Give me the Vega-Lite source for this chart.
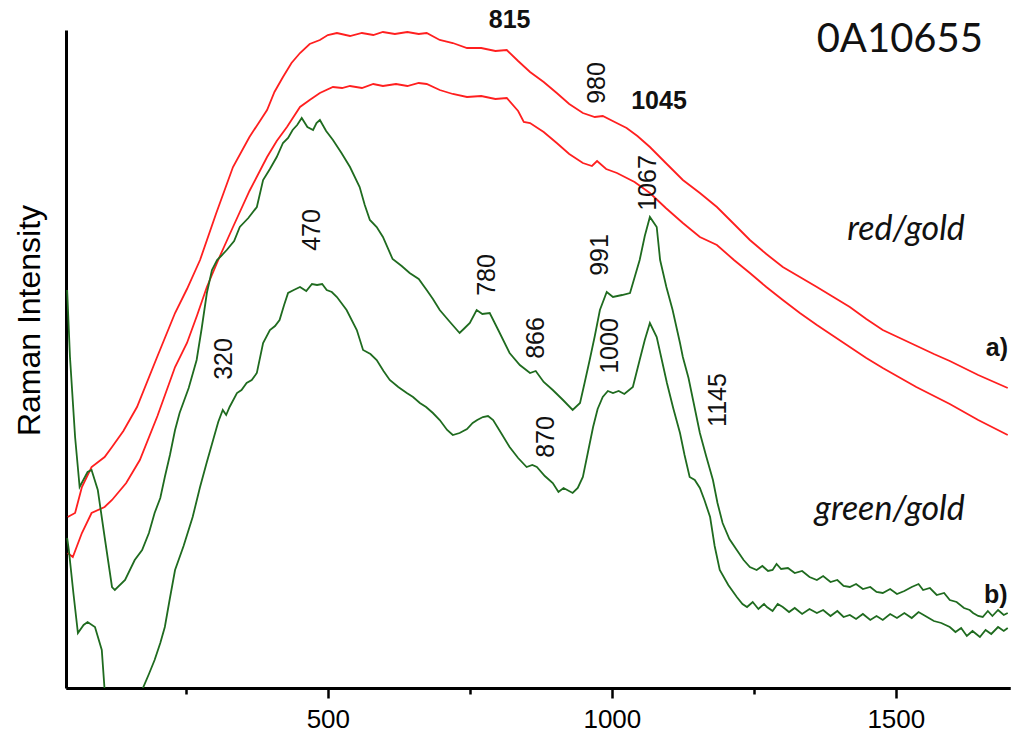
{
  "$schema": "https://vega.github.io/schema/vega-lite/v6.json",
  "width": 944,
  "height": 658,
  "autosize": {"type": "none"},
  "padding": {"left": 66, "top": 30, "right": 5, "bottom": 55},
  "background": "white",
  "config": {"view": {"stroke": null}, "axis": {"grid": false}},
  "datasets": {
    "curves": [
      {"curve": "a1", "w": 42, "h": 171}, {"curve": "a1", "w": 55, "h": 175}, {"curve": "a1", "w": 67, "h": 201}, {"curve": "a1", "w": 84, "h": 221}, {"curve": "a1", "w": 107, "h": 231}, {"curve": "a1", "w": 120, "h": 241}, {"curve": "a1", "w": 140, "h": 257}, {"curve": "a1", "w": 164, "h": 281}, {"curve": "a1", "w": 198, "h": 329}, {"curve": "a1", "w": 231, "h": 375}, {"curve": "a1", "w": 252, "h": 399}, {"curve": "a1", "w": 275, "h": 428}, {"curve": "a1", "w": 303, "h": 474}, {"curve": "a1", "w": 333, "h": 521}, {"curve": "a1", "w": 362, "h": 551}, {"curve": "a1", "w": 393, "h": 578}, {"curve": "a1", "w": 406, "h": 596}, {"curve": "a1", "w": 421, "h": 611}, {"curve": "a1", "w": 436, "h": 625}, {"curve": "a1", "w": 451, "h": 635}, {"curve": "a1", "w": 468, "h": 644}, {"curve": "a1", "w": 486, "h": 648}, {"curve": "a1", "w": 500, "h": 653}, {"curve": "a1", "w": 516, "h": 655}, {"curve": "a1", "w": 539, "h": 652}, {"curve": "a1", "w": 560, "h": 655}, {"curve": "a1", "w": 580, "h": 653}, {"curve": "a1", "w": 597, "h": 656}, {"curve": "a1", "w": 618, "h": 654}, {"curve": "a1", "w": 640, "h": 656}, {"curve": "a1", "w": 660, "h": 654}, {"curve": "a1", "w": 674, "h": 655}, {"curve": "a1", "w": 697, "h": 648}, {"curve": "a1", "w": 720, "h": 645}, {"curve": "a1", "w": 745, "h": 640}, {"curve": "a1", "w": 770, "h": 640}, {"curve": "a1", "w": 795, "h": 637}, {"curve": "a1", "w": 815, "h": 638}, {"curve": "a1", "w": 835, "h": 627}, {"curve": "a1", "w": 856, "h": 616}, {"curve": "a1", "w": 880, "h": 606}, {"curve": "a1", "w": 903, "h": 595}, {"curve": "a1", "w": 925, "h": 584}, {"curve": "a1", "w": 949, "h": 575}, {"curve": "a1", "w": 970, "h": 571}, {"curve": "a1", "w": 984, "h": 572}, {"curve": "a1", "w": 1005, "h": 566}, {"curve": "a1", "w": 1026, "h": 560}, {"curve": "a1", "w": 1045, "h": 552}, {"curve": "a1", "w": 1067, "h": 541}, {"curve": "a1", "w": 1095, "h": 525}, {"curve": "a1", "w": 1125, "h": 508}, {"curve": "a1", "w": 1155, "h": 495}, {"curve": "a1", "w": 1185, "h": 481}, {"curve": "a1", "w": 1215, "h": 464}, {"curve": "a1", "w": 1243, "h": 448}, {"curve": "a1", "w": 1272, "h": 434}, {"curve": "a1", "w": 1301, "h": 421}, {"curve": "a1", "w": 1331, "h": 411}, {"curve": "a1", "w": 1361, "h": 401}, {"curve": "a1", "w": 1390, "h": 391}, {"curve": "a1", "w": 1419, "h": 381}, {"curve": "a1", "w": 1448, "h": 369}, {"curve": "a1", "w": 1477, "h": 358}, {"curve": "a1", "w": 1507, "h": 350}, {"curve": "a1", "w": 1537, "h": 342}, {"curve": "a1", "w": 1567, "h": 334}, {"curve": "a1", "w": 1595, "h": 327}, {"curve": "a1", "w": 1645, "h": 313}, {"curve": "a1", "w": 1697, "h": 300},
      {"curve": "a2", "w": 42, "h": 135}, {"curve": "a2", "w": 51, "h": 131}, {"curve": "a2", "w": 67, "h": 155}, {"curve": "a2", "w": 84, "h": 175}, {"curve": "a2", "w": 107, "h": 181}, {"curve": "a2", "w": 120, "h": 188}, {"curve": "a2", "w": 145, "h": 205}, {"curve": "a2", "w": 169, "h": 228}, {"curve": "a2", "w": 200, "h": 272}, {"curve": "a2", "w": 231, "h": 321}, {"curve": "a2", "w": 252, "h": 345}, {"curve": "a2", "w": 270, "h": 373}, {"curve": "a2", "w": 287, "h": 401}, {"curve": "a2", "w": 310, "h": 432}, {"curve": "a2", "w": 333, "h": 461}, {"curve": "a2", "w": 362, "h": 497}, {"curve": "a2", "w": 393, "h": 531}, {"curve": "a2", "w": 410, "h": 547}, {"curve": "a2", "w": 428, "h": 561}, {"curve": "a2", "w": 451, "h": 581}, {"curve": "a2", "w": 468, "h": 588}, {"curve": "a2", "w": 486, "h": 595}, {"curve": "a2", "w": 509, "h": 601}, {"curve": "a2", "w": 525, "h": 600}, {"curve": "a2", "w": 539, "h": 602}, {"curve": "a2", "w": 560, "h": 600}, {"curve": "a2", "w": 580, "h": 604}, {"curve": "a2", "w": 597, "h": 602}, {"curve": "a2", "w": 620, "h": 604}, {"curve": "a2", "w": 640, "h": 602}, {"curve": "a2", "w": 660, "h": 605}, {"curve": "a2", "w": 674, "h": 604}, {"curve": "a2", "w": 697, "h": 598}, {"curve": "a2", "w": 720, "h": 594}, {"curve": "a2", "w": 745, "h": 591}, {"curve": "a2", "w": 770, "h": 592}, {"curve": "a2", "w": 795, "h": 589}, {"curve": "a2", "w": 815, "h": 590}, {"curve": "a2", "w": 835, "h": 577}, {"curve": "a2", "w": 845, "h": 566}, {"curve": "a2", "w": 856, "h": 565}, {"curve": "a2", "w": 880, "h": 556}, {"curve": "a2", "w": 903, "h": 545}, {"curve": "a2", "w": 925, "h": 534}, {"curve": "a2", "w": 949, "h": 525}, {"curve": "a2", "w": 965, "h": 522}, {"curve": "a2", "w": 974, "h": 527}, {"curve": "a2", "w": 990, "h": 519}, {"curve": "a2", "w": 1009, "h": 515}, {"curve": "a2", "w": 1040, "h": 506}, {"curve": "a2", "w": 1067, "h": 495}, {"curve": "a2", "w": 1095, "h": 480}, {"curve": "a2", "w": 1125, "h": 465}, {"curve": "a2", "w": 1155, "h": 451}, {"curve": "a2", "w": 1185, "h": 443}, {"curve": "a2", "w": 1215, "h": 428}, {"curve": "a2", "w": 1243, "h": 415}, {"curve": "a2", "w": 1272, "h": 401}, {"curve": "a2", "w": 1301, "h": 388}, {"curve": "a2", "w": 1331, "h": 375}, {"curve": "a2", "w": 1361, "h": 363}, {"curve": "a2", "w": 1390, "h": 352}, {"curve": "a2", "w": 1419, "h": 341}, {"curve": "a2", "w": 1448, "h": 330}, {"curve": "a2", "w": 1477, "h": 320}, {"curve": "a2", "w": 1536, "h": 301}, {"curve": "a2", "w": 1595, "h": 284}, {"curve": "a2", "w": 1645, "h": 268}, {"curve": "a2", "w": 1697, "h": 253},
      {"curve": "b1", "w": 41, "h": 398}, {"curve": "b1", "w": 46, "h": 331}, {"curve": "b1", "w": 55, "h": 251}, {"curve": "b1", "w": 63, "h": 201}, {"curve": "b1", "w": 77, "h": 216}, {"curve": "b1", "w": 84, "h": 218}, {"curve": "b1", "w": 95, "h": 198}, {"curve": "b1", "w": 107, "h": 151}, {"curve": "b1", "w": 120, "h": 101}, {"curve": "b1", "w": 125, "h": 98}, {"curve": "b1", "w": 143, "h": 108}, {"curve": "b1", "w": 160, "h": 128}, {"curve": "b1", "w": 173, "h": 138}, {"curve": "b1", "w": 185, "h": 155}, {"curve": "b1", "w": 195, "h": 175}, {"curve": "b1", "w": 205, "h": 190}, {"curve": "b1", "w": 213, "h": 211}, {"curve": "b1", "w": 222, "h": 233}, {"curve": "b1", "w": 231, "h": 258}, {"curve": "b1", "w": 239, "h": 275}, {"curve": "b1", "w": 255, "h": 300}, {"curve": "b1", "w": 269, "h": 328}, {"curve": "b1", "w": 278, "h": 360}, {"curve": "b1", "w": 287, "h": 395}, {"curve": "b1", "w": 296, "h": 418}, {"curve": "b1", "w": 305, "h": 428}, {"curve": "b1", "w": 312, "h": 432}, {"curve": "b1", "w": 322, "h": 438}, {"curve": "b1", "w": 335, "h": 447}, {"curve": "b1", "w": 345, "h": 461}, {"curve": "b1", "w": 360, "h": 470}, {"curve": "b1", "w": 375, "h": 481}, {"curve": "b1", "w": 386, "h": 508}, {"curve": "b1", "w": 398, "h": 519}, {"curve": "b1", "w": 410, "h": 531}, {"curve": "b1", "w": 421, "h": 545}, {"curve": "b1", "w": 430, "h": 550}, {"curve": "b1", "w": 438, "h": 558}, {"curve": "b1", "w": 446, "h": 563}, {"curve": "b1", "w": 454, "h": 570}, {"curve": "b1", "w": 464, "h": 561}, {"curve": "b1", "w": 474, "h": 558}, {"curve": "b1", "w": 480, "h": 565}, {"curve": "b1", "w": 486, "h": 568}, {"curve": "b1", "w": 497, "h": 557}, {"curve": "b1", "w": 509, "h": 548}, {"curve": "b1", "w": 524, "h": 535}, {"curve": "b1", "w": 539, "h": 521}, {"curve": "b1", "w": 556, "h": 501}, {"curve": "b1", "w": 565, "h": 483}, {"curve": "b1", "w": 574, "h": 468}, {"curve": "b1", "w": 586, "h": 461}, {"curve": "b1", "w": 597, "h": 451}, {"curve": "b1", "w": 614, "h": 429}, {"curve": "b1", "w": 630, "h": 422}, {"curve": "b1", "w": 644, "h": 415}, {"curve": "b1", "w": 660, "h": 409}, {"curve": "b1", "w": 674, "h": 398}, {"curve": "b1", "w": 685, "h": 389}, {"curve": "b1", "w": 697, "h": 378}, {"curve": "b1", "w": 715, "h": 366}, {"curve": "b1", "w": 732, "h": 355}, {"curve": "b1", "w": 741, "h": 360}, {"curve": "b1", "w": 750, "h": 365}, {"curve": "b1", "w": 762, "h": 378}, {"curve": "b1", "w": 772, "h": 374}, {"curve": "b1", "w": 785, "h": 375}, {"curve": "b1", "w": 800, "h": 358}, {"curve": "b1", "w": 820, "h": 335}, {"curve": "b1", "w": 838, "h": 323}, {"curve": "b1", "w": 856, "h": 315}, {"curve": "b1", "w": 866, "h": 317}, {"curve": "b1", "w": 880, "h": 306}, {"curve": "b1", "w": 896, "h": 298}, {"curve": "b1", "w": 914, "h": 288}, {"curve": "b1", "w": 931, "h": 278}, {"curve": "b1", "w": 944, "h": 285}, {"curve": "b1", "w": 952, "h": 305}, {"curve": "b1", "w": 961, "h": 328}, {"curve": "b1", "w": 970, "h": 352}, {"curve": "b1", "w": 979, "h": 378}, {"curve": "b1", "w": 991, "h": 396}, {"curve": "b1", "w": 1002, "h": 391}, {"curve": "b1", "w": 1018, "h": 393}, {"curve": "b1", "w": 1032, "h": 395}, {"curve": "b1", "w": 1049, "h": 428}, {"curve": "b1", "w": 1058, "h": 452}, {"curve": "b1", "w": 1067, "h": 471}, {"curve": "b1", "w": 1079, "h": 461}, {"curve": "b1", "w": 1085, "h": 428}, {"curve": "b1", "w": 1096, "h": 401}, {"curve": "b1", "w": 1107, "h": 378}, {"curve": "b1", "w": 1120, "h": 345}, {"curve": "b1", "w": 1125, "h": 331}, {"curve": "b1", "w": 1135, "h": 310}, {"curve": "b1", "w": 1143, "h": 288}, {"curve": "b1", "w": 1155, "h": 255}, {"curve": "b1", "w": 1166, "h": 232}, {"curve": "b1", "w": 1178, "h": 208}, {"curve": "b1", "w": 1186, "h": 185}, {"curve": "b1", "w": 1195, "h": 165}, {"curve": "b1", "w": 1207, "h": 149}, {"curve": "b1", "w": 1220, "h": 138}, {"curve": "b1", "w": 1232, "h": 128}, {"curve": "b1", "w": 1243, "h": 121}, {"curve": "b1", "w": 1255, "h": 118}, {"curve": "b1", "w": 1265, "h": 122}, {"curve": "b1", "w": 1275, "h": 117}, {"curve": "b1", "w": 1283, "h": 118}, {"curve": "b1", "w": 1290, "h": 124}, {"curve": "b1", "w": 1298, "h": 119}, {"curve": "b1", "w": 1310, "h": 120}, {"curve": "b1", "w": 1322, "h": 115}, {"curve": "b1", "w": 1335, "h": 117}, {"curve": "b1", "w": 1348, "h": 111}, {"curve": "b1", "w": 1361, "h": 108}, {"curve": "b1", "w": 1372, "h": 112}, {"curve": "b1", "w": 1385, "h": 106}, {"curve": "b1", "w": 1397, "h": 108}, {"curve": "b1", "w": 1408, "h": 102}, {"curve": "b1", "w": 1419, "h": 101}, {"curve": "b1", "w": 1430, "h": 104}, {"curve": "b1", "w": 1442, "h": 99}, {"curve": "b1", "w": 1455, "h": 101}, {"curve": "b1", "w": 1466, "h": 96}, {"curve": "b1", "w": 1477, "h": 95}, {"curve": "b1", "w": 1490, "h": 99}, {"curve": "b1", "w": 1502, "h": 94}, {"curve": "b1", "w": 1515, "h": 97}, {"curve": "b1", "w": 1528, "h": 101}, {"curve": "b1", "w": 1540, "h": 104}, {"curve": "b1", "w": 1548, "h": 98}, {"curve": "b1", "w": 1560, "h": 100}, {"curve": "b1", "w": 1572, "h": 93}, {"curve": "b1", "w": 1585, "h": 95}, {"curve": "b1", "w": 1595, "h": 88}, {"curve": "b1", "w": 1607, "h": 86}, {"curve": "b1", "w": 1620, "h": 80}, {"curve": "b1", "w": 1630, "h": 78}, {"curve": "b1", "w": 1636, "h": 75}, {"curve": "b1", "w": 1645, "h": 72}, {"curve": "b1", "w": 1653, "h": 71}, {"curve": "b1", "w": 1662, "h": 77}, {"curve": "b1", "w": 1670, "h": 72}, {"curve": "b1", "w": 1680, "h": 78}, {"curve": "b1", "w": 1690, "h": 73}, {"curve": "b1", "w": 1697, "h": 75},
      {"curve": "b2", "w": 41, "h": 150}, {"curve": "b2", "w": 44, "h": 138}, {"curve": "b2", "w": 52, "h": 95}, {"curve": "b2", "w": 60, "h": 55}, {"curve": "b2", "w": 70, "h": 63}, {"curve": "b2", "w": 77, "h": 66}, {"curve": "b2", "w": 90, "h": 61}, {"curve": "b2", "w": 102, "h": 38}, {"curve": "b2", "w": 107, "h": -2}, {"curve": "b2", "w": 118, "h": -40}, {"curve": "b2", "w": 160, "h": -40}, {"curve": "b2", "w": 173, "h": -2}, {"curve": "b2", "w": 185, "h": 14}, {"curve": "b2", "w": 195, "h": 28}, {"curve": "b2", "w": 205, "h": 45}, {"curve": "b2", "w": 213, "h": 61}, {"curve": "b2", "w": 222, "h": 90}, {"curve": "b2", "w": 231, "h": 118}, {"curve": "b2", "w": 246, "h": 142}, {"curve": "b2", "w": 262, "h": 171}, {"curve": "b2", "w": 275, "h": 201}, {"curve": "b2", "w": 287, "h": 226}, {"curve": "b2", "w": 298, "h": 248}, {"curve": "b2", "w": 307, "h": 266}, {"curve": "b2", "w": 315, "h": 278}, {"curve": "b2", "w": 321, "h": 273}, {"curve": "b2", "w": 327, "h": 281}, {"curve": "b2", "w": 340, "h": 295}, {"curve": "b2", "w": 348, "h": 298}, {"curve": "b2", "w": 357, "h": 305}, {"curve": "b2", "w": 366, "h": 308}, {"curve": "b2", "w": 375, "h": 315}, {"curve": "b2", "w": 386, "h": 345}, {"curve": "b2", "w": 398, "h": 358}, {"curve": "b2", "w": 407, "h": 362}, {"curve": "b2", "w": 415, "h": 368}, {"curve": "b2", "w": 423, "h": 383}, {"curve": "b2", "w": 430, "h": 395}, {"curve": "b2", "w": 440, "h": 398}, {"curve": "b2", "w": 451, "h": 401}, {"curve": "b2", "w": 462, "h": 397}, {"curve": "b2", "w": 472, "h": 404}, {"curve": "b2", "w": 481, "h": 403}, {"curve": "b2", "w": 490, "h": 404}, {"curve": "b2", "w": 498, "h": 398}, {"curve": "b2", "w": 507, "h": 396}, {"curve": "b2", "w": 516, "h": 391}, {"curve": "b2", "w": 533, "h": 378}, {"curve": "b2", "w": 551, "h": 358}, {"curve": "b2", "w": 562, "h": 338}, {"curve": "b2", "w": 575, "h": 334}, {"curve": "b2", "w": 586, "h": 328}, {"curve": "b2", "w": 598, "h": 317}, {"curve": "b2", "w": 609, "h": 308}, {"curve": "b2", "w": 624, "h": 301}, {"curve": "b2", "w": 639, "h": 295}, {"curve": "b2", "w": 650, "h": 291}, {"curve": "b2", "w": 662, "h": 285}, {"curve": "b2", "w": 673, "h": 281}, {"curve": "b2", "w": 685, "h": 275}, {"curve": "b2", "w": 697, "h": 268}, {"curve": "b2", "w": 710, "h": 258}, {"curve": "b2", "w": 720, "h": 253}, {"curve": "b2", "w": 732, "h": 255}, {"curve": "b2", "w": 745, "h": 259}, {"curve": "b2", "w": 755, "h": 265}, {"curve": "b2", "w": 763, "h": 268}, {"curve": "b2", "w": 773, "h": 271}, {"curve": "b2", "w": 782, "h": 272}, {"curve": "b2", "w": 791, "h": 268}, {"curve": "b2", "w": 805, "h": 255}, {"curve": "b2", "w": 820, "h": 241}, {"curve": "b2", "w": 835, "h": 230}, {"curve": "b2", "w": 850, "h": 221}, {"curve": "b2", "w": 860, "h": 223}, {"curve": "b2", "w": 868, "h": 221}, {"curve": "b2", "w": 882, "h": 212}, {"curve": "b2", "w": 896, "h": 205}, {"curve": "b2", "w": 906, "h": 196}, {"curve": "b2", "w": 915, "h": 200}, {"curve": "b2", "w": 931, "h": 195}, {"curve": "b2", "w": 940, "h": 200}, {"curve": "b2", "w": 949, "h": 211}, {"curve": "b2", "w": 958, "h": 236}, {"curve": "b2", "w": 967, "h": 261}, {"curve": "b2", "w": 975, "h": 279}, {"curve": "b2", "w": 984, "h": 291}, {"curve": "b2", "w": 993, "h": 297}, {"curve": "b2", "w": 1002, "h": 295}, {"curve": "b2", "w": 1012, "h": 297}, {"curve": "b2", "w": 1022, "h": 294}, {"curve": "b2", "w": 1037, "h": 301}, {"curve": "b2", "w": 1049, "h": 328}, {"curve": "b2", "w": 1058, "h": 348}, {"curve": "b2", "w": 1067, "h": 365}, {"curve": "b2", "w": 1079, "h": 351}, {"curve": "b2", "w": 1088, "h": 328}, {"curve": "b2", "w": 1097, "h": 305}, {"curve": "b2", "w": 1108, "h": 280}, {"curve": "b2", "w": 1120, "h": 255}, {"curve": "b2", "w": 1128, "h": 233}, {"curve": "b2", "w": 1137, "h": 211}, {"curve": "b2", "w": 1146, "h": 208}, {"curve": "b2", "w": 1155, "h": 200}, {"curve": "b2", "w": 1163, "h": 188}, {"curve": "b2", "w": 1173, "h": 171}, {"curve": "b2", "w": 1181, "h": 142}, {"curve": "b2", "w": 1190, "h": 118}, {"curve": "b2", "w": 1205, "h": 103}, {"curve": "b2", "w": 1220, "h": 91}, {"curve": "b2", "w": 1230, "h": 84}, {"curve": "b2", "w": 1238, "h": 81}, {"curve": "b2", "w": 1248, "h": 86}, {"curve": "b2", "w": 1258, "h": 79}, {"curve": "b2", "w": 1268, "h": 84}, {"curve": "b2", "w": 1273, "h": 81}, {"curve": "b2", "w": 1283, "h": 77}, {"curve": "b2", "w": 1292, "h": 84}, {"curve": "b2", "w": 1301, "h": 81}, {"curve": "b2", "w": 1312, "h": 76}, {"curve": "b2", "w": 1322, "h": 80}, {"curve": "b2", "w": 1335, "h": 74}, {"curve": "b2", "w": 1348, "h": 79}, {"curve": "b2", "w": 1361, "h": 75}, {"curve": "b2", "w": 1372, "h": 78}, {"curve": "b2", "w": 1385, "h": 72}, {"curve": "b2", "w": 1397, "h": 77}, {"curve": "b2", "w": 1408, "h": 71}, {"curve": "b2", "w": 1419, "h": 73}, {"curve": "b2", "w": 1430, "h": 69}, {"curve": "b2", "w": 1442, "h": 74}, {"curve": "b2", "w": 1455, "h": 68}, {"curve": "b2", "w": 1466, "h": 72}, {"curve": "b2", "w": 1477, "h": 68}, {"curve": "b2", "w": 1490, "h": 74}, {"curve": "b2", "w": 1502, "h": 70}, {"curve": "b2", "w": 1515, "h": 75}, {"curve": "b2", "w": 1528, "h": 70}, {"curve": "b2", "w": 1540, "h": 76}, {"curve": "b2", "w": 1555, "h": 71}, {"curve": "b2", "w": 1567, "h": 67}, {"curve": "b2", "w": 1580, "h": 65}, {"curve": "b2", "w": 1595, "h": 61}, {"curve": "b2", "w": 1605, "h": 56}, {"curve": "b2", "w": 1615, "h": 60}, {"curve": "b2", "w": 1625, "h": 52}, {"curve": "b2", "w": 1635, "h": 57}, {"curve": "b2", "w": 1648, "h": 51}, {"curve": "b2", "w": 1658, "h": 58}, {"curve": "b2", "w": 1668, "h": 54}, {"curve": "b2", "w": 1680, "h": 61}, {"curve": "b2", "w": 1690, "h": 57}, {"curve": "b2", "w": 1697, "h": 60}
    ],
    "labels": [
      {"kind": "bold", "label": "815", "w": 820, "h": 668},
      {"kind": "bold", "label": "1045", "w": 1083, "h": 587},
      {"kind": "bold", "label": "a)", "w": 1678, "h": 340},
      {"kind": "bold", "label": "b)", "w": 1676, "h": 93},
      {"kind": "italic", "label": "red/gold", "w": 1518, "h": 458},
      {"kind": "italic", "label": "green/gold", "w": 1489, "h": 178},
      {"kind": "id", "label": "0A10655", "w": 1507, "h": 648},
      {"kind": "rot", "label": "980", "w": 974, "h": 605},
      {"kind": "rot", "label": "1067", "w": 1063, "h": 505},
      {"kind": "rot", "label": "1145", "w": 1187, "h": 288},
      {"kind": "rot", "label": "470", "w": 472, "h": 458},
      {"kind": "rot", "label": "320", "w": 317, "h": 329},
      {"kind": "rot", "label": "780", "w": 780, "h": 413},
      {"kind": "rot", "label": "991", "w": 979, "h": 433},
      {"kind": "rot", "label": "866", "w": 866, "h": 350},
      {"kind": "rot", "label": "1000", "w": 997, "h": 342},
      {"kind": "rot", "label": "870", "w": 884, "h": 251}
    ]
  },
  "layer": [
    {
      "data": {"name": "curves"},
      "mark": {"type": "line", "clip": true, "strokeWidth": 1.8},
      "encoding": {
        "x": {"field": "w", "type": "quantitative", "scale": {"domain": [39, 1701], "nice": false, "zero": false},
          "axis": {"orient": "bottom", "values": [500, 1000, 1500], "format": "d", "title": null, "domainColor": "black", "domainWidth": 3, "tickColor": "black", "tickWidth": 2.5, "tickSize": 10, "labelFont": "Liberation Sans", "labelFontSize": 26, "labelColor": "black", "labelPadding": 8, "labelFlush": false}},
        "y": {"field": "h", "type": "quantitative", "scale": {"domain": [0, 658], "nice": false, "zero": false},
          "axis": {"orient": "left", "title": "Raman Intensity", "ticks": false, "labels": false, "domainColor": "black", "domainWidth": 3, "titleFont": "Liberation Sans", "titleFontSize": 32, "titleFontWeight": "normal", "titleColor": "black", "titlePadding": 20, "titleY": 290}},
        "color": {"field": "curve", "type": "nominal", "scale": {"domain": ["a1", "a2", "b1", "b2"], "range": ["#ff1f1f", "#ff1f1f", "#1f6b1f", "#1f6b1f"]}, "legend": null},
        "detail": {"field": "curve"}
      }
    },
    {
      "data": {"name": "labels"},
      "transform": [{"filter": "datum.kind === 'rot'"}],
      "mark": {"type": "text", "angle": 270, "align": "center", "baseline": "middle", "font": "Liberation Sans", "fontSize": 25, "color": "#111"},
      "encoding": {
        "x": {"field": "w", "type": "quantitative", "axis": {"orient": "bottom", "values": [250, 750, 1250], "labels": false, "title": null, "domainColor": "black", "domainWidth": 3, "tickColor": "black", "tickWidth": 2.5, "tickSize": 6}},
        "y": {"field": "h", "type": "quantitative", "axis": null},
        "text": {"field": "label"}
      }
    },
    {
      "data": {"name": "labels"},
      "transform": [{"filter": "datum.kind === 'bold'"}],
      "mark": {"type": "text", "align": "center", "baseline": "middle", "font": "Liberation Sans", "fontSize": 25, "fontWeight": "bold", "color": "#111"},
      "encoding": {
        "x": {"field": "w", "type": "quantitative", "axis": null},
        "y": {"field": "h", "type": "quantitative", "axis": null},
        "text": {"field": "label"}
      }
    },
    {
      "data": {"name": "labels"},
      "transform": [{"filter": "datum.kind === 'italic'"}],
      "mark": {"type": "text", "align": "center", "baseline": "middle", "font": "Lato", "fontSize": 34, "fontStyle": "italic", "color": "#111"},
      "encoding": {
        "x": {"field": "w", "type": "quantitative", "axis": null},
        "y": {"field": "h", "type": "quantitative", "axis": null},
        "text": {"field": "label"}
      }
    },
    {
      "data": {"name": "labels"},
      "transform": [{"filter": "datum.kind === 'id'"}],
      "mark": {"type": "text", "align": "center", "baseline": "middle", "font": "Lato", "fontSize": 40, "color": "#111"},
      "encoding": {
        "x": {"field": "w", "type": "quantitative", "axis": null},
        "y": {"field": "h", "type": "quantitative", "axis": null},
        "text": {"field": "label"}
      }
    }
  ],
  "resolve": {"axis": {"x": "independent", "y": "independent"}}
}
